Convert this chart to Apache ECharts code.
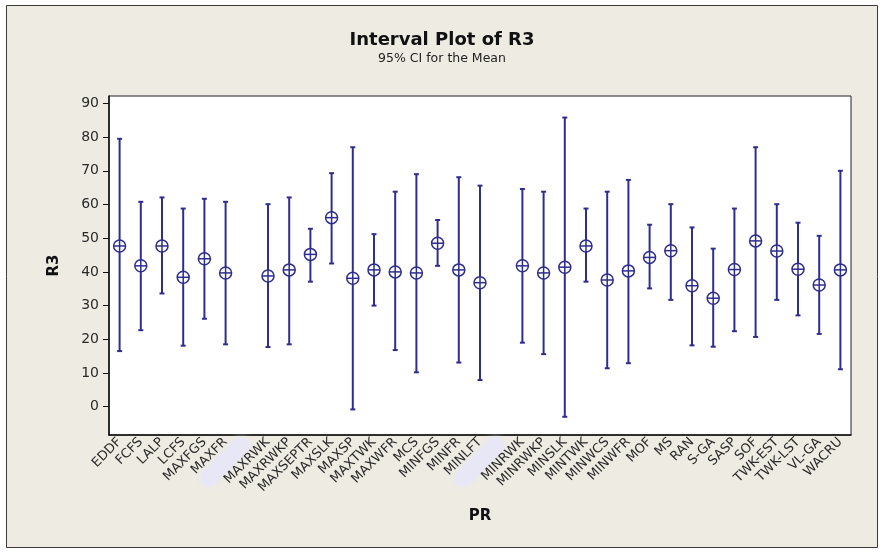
<!DOCTYPE html>
<html>
<head>
<meta charset="utf-8">
<script src="https://cdn.jsdelivr.net/npm/echarts@6/dist/echarts.min.js"></script>
<style>
  html, body { margin: 0; padding: 0; background: #ffffff; }
  #chart { width: 884px; height: 552px; }
</style>
</head>
<body>
<div id="chart"></div>
<script>
// Rule names (x categories); empty strings are unused slots on the axis
const categories = ['EDDF','FCFS','LALP','LCFS','MAXFGS','MAXFR','','MAXRWK','MAXRWKP','MAXSEPTR','MAXSLK','MAXSP','MAXTWK','MAXWFR','MCS','MINFGS','MINFR','MINLFT','','MINRWK','MINRWKP','MINSLK','MINTWK','MINWCS','MINWFR','MOF','MS','RAN','S-GA','SASP','SOF','TWK-EST','TWK-LST','VL-GA','WACRU'];

// Mean of R3 per rule
const means = [47.7,41.8,47.7,38.4,43.9,39.7,null,38.8,40.6,45.2,56.1,38.1,40.6,40.0,39.7,48.5,40.6,36.8,null,41.8,39.7,41.4,47.7,37.6,40.3,44.3,46.3,35.9,32.2,40.7,49.2,46.2,40.8,36.1,40.6];

// Lower and upper bounds of the 95% confidence interval
const lower = [16.5,22.7,33.6,18.1,26.1,18.5,null,17.7,18.5,37.1,42.5,-0.8,30.0,16.8,10.2,41.8,13.1,7.9,null,19.0,15.6,-3.0,37.1,11.4,12.9,35.1,31.7,18.2,17.8,22.4,20.7,31.7,27.1,21.6,11.1];
const upper = [79.5,60.8,62.1,58.8,61.7,60.8,null,60.1,62.1,52.8,69.3,77.0,51.2,63.8,69.0,55.4,68.1,65.6,null,64.6,63.8,85.8,58.8,63.8,67.3,54.0,60.1,53.2,46.9,58.8,77.0,60.1,54.6,50.7,70.0];

// Y-axis tick values
const yTicks = [0,10,20,30,40,50,60,70,80,90];

const INK = '#2E2E8E';

const intervalData = [];
categories.forEach((c, i) => {
  if (means[i] !== null) intervalData.push([i, means[i], lower[i], upper[i]]);
});

const chart = echarts.init(document.getElementById('chart'), null, { renderer: 'canvas' });

chart.setOption({
  animation: false,
  backgroundColor: '#ffffff',
  graphic: [
    {
      type: 'rect', z: -100,
      shape: { x: 6.5, y: 5.5, width: 871, height: 542 },
      style: { fill: '#EEEBE3', stroke: '#3a3a3a', lineWidth: 1 }
    },
    {
      type: 'text', x: 442, y: 40,
      style: { text: 'Interval Plot of R3', align: 'center', verticalAlign: 'middle',
               font: 'bold 18px "DejaVu Sans"', fill: '#111' }
    },
    {
      type: 'text', x: 442, y: 59,
      style: { text: '95% CI for the Mean', align: 'center', verticalAlign: 'middle',
               font: '12.5px "DejaVu Sans"', fill: '#222' }
    }
  ],
  grid: {
    left: 109, right: 33, top: 96, bottom: 117,
    show: true, backgroundColor: '#ffffff', borderColor: '#222', borderWidth: 1,
    outerBoundsMode: 'none'
  },
  xAxis: {
    type: 'category',
    data: categories,
    boundaryGap: true,
    name: 'PR',
    nameLocation: 'middle',
    nameGap: 74,
    nameTextStyle: { fontFamily: 'DejaVu Sans', fontWeight: 'bold', fontSize: 15, color: '#111' },
    axisLine: { onZero: false, lineStyle: { color: '#111', width: 1.5 } },
    axisTick: { alignWithLabel: true, length: 5, lineStyle: { color: '#111', width: 1 } },
    axisLabel: {
      interval: 0, rotate: 45, margin: 5,
      fontFamily: 'DejaVu Sans', fontSize: 13, color: '#2a2a2a',
      formatter: v => v === '' ? '{hl| }' : v,
      rich: { hl: { width: 62, height: 16, backgroundColor: '#E7E7F6', borderRadius: 8,
                    shadowBlur: 6, shadowColor: '#E7E7F6' } }
    },
    splitLine: { show: false }
  },
  yAxis: {
    type: 'value',
    min: -8.4, max: 92.2,
    name: 'R3',
    nameLocation: 'middle',
    nameGap: 47,
    nameTextStyle: { fontFamily: 'DejaVu Sans', fontWeight: 'bold', fontSize: 15, color: '#111' },
    axisLine: { show: true, onZero: false, lineStyle: { color: '#111', width: 1.5 } },
    axisTick: { show: true, length: 6, customValues: yTicks, lineStyle: { color: '#111' } },
    axisLabel: { customValues: yTicks, margin: 10, fontFamily: 'DejaVu Sans', fontSize: 14, color: '#2a2a2a' },
    splitLine: { show: false }
  },
  series: [{
    type: 'custom',
    data: intervalData,
    encode: { x: 0, y: [1, 2, 3] },
    renderItem: (params, api) => {
      const x = api.value(0);
      const c = api.coord([x, api.value(1)]);
      const lo = api.coord([x, api.value(2)]);
      const hi = api.coord([x, api.value(3)]);
      const cap = 2.5, r = 6;
      const st = { stroke: INK, lineWidth: 2, fill: null };
      const thin = { stroke: INK, lineWidth: 1.5, fill: null };
      return {
        type: 'group',
        children: [
          { type: 'line', shape: { x1: hi[0], y1: hi[1], x2: lo[0], y2: lo[1] }, style: st },
          { type: 'line', shape: { x1: hi[0] - cap, y1: hi[1], x2: hi[0] + cap, y2: hi[1] }, style: st },
          { type: 'line', shape: { x1: lo[0] - cap, y1: lo[1], x2: lo[0] + cap, y2: lo[1] }, style: st },
          { type: 'circle', shape: { cx: c[0], cy: c[1], r: r }, style: { fill: '#ffffff', stroke: INK, lineWidth: 1.5 } },
          { type: 'line', shape: { x1: c[0] - r, y1: c[1], x2: c[0] + r, y2: c[1] }, style: thin },
          { type: 'line', shape: { x1: c[0], y1: c[1] - r, x2: c[0], y2: c[1] + r }, style: thin }
        ]
      };
    }
  }]
});
</script>
</body>
</html>
